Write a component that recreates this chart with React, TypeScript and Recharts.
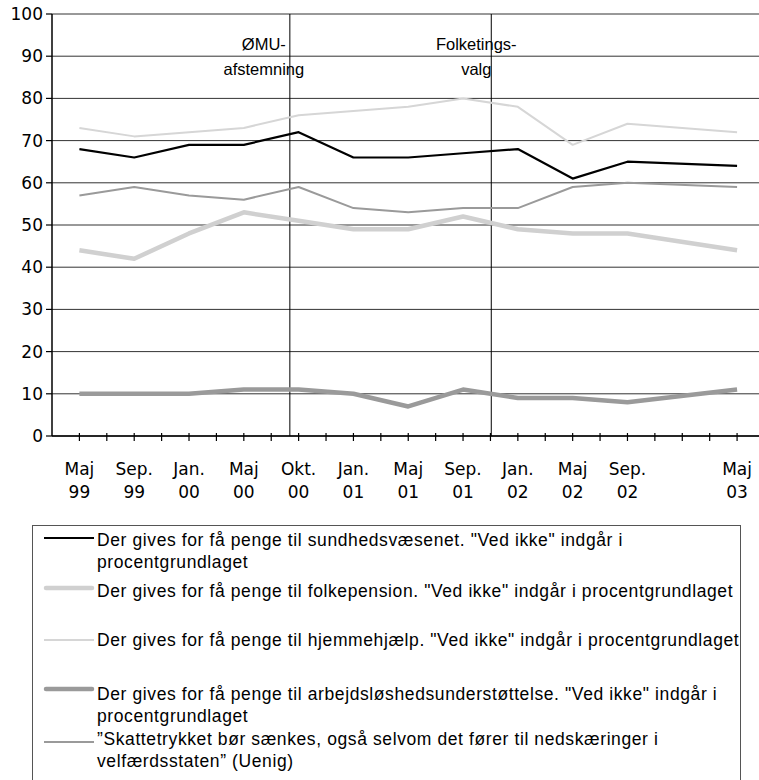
import React from 'react';
import { LineChart, Line, XAxis, YAxis, CartesianGrid, ReferenceLine } from 'recharts';

// Category slots along the time axis (blank = unlabelled tick)
const categories = [
  'Maj 99', '', 'Sep. 99', '', 'Jan. 00', '', 'Maj 00', '', 'Okt. 00', '', 'Jan. 01', '',
  'Maj 01', '', 'Sep. 01', '', 'Jan. 02', '', 'Maj 02', '', 'Sep. 02', '', '', '', 'Maj 03',
];

const surveys = ['Maj 99', 'Sep. 99', 'Jan. 00', 'Maj 00', 'Okt. 00', 'Jan. 01', 'Maj 01', 'Sep. 01', 'Jan. 02', 'Maj 02', 'Sep. 02', 'Maj 03'];

const sundhed = [68, 66, 69, 69, 72, 66, 66, 67, 68, 61, 65, 64];
const folkepension = [44, 42, 48, 53, 51, 49, 49, 52, 49, 48, 48, 44];
const hjemmehjaelp = [73, 71, 72, 73, 76, 77, 78, 80, 78, 69, 74, 72];
const arbejdsloshed = [10, 10, 10, 11, 11, 10, 7, 11, 9, 9, 8, 11];
const skattetryk = [57, 59, 57, 56, 59, 54, 53, 54, 54, 59, 60, 59];

const yTicks = [0, 10, 20, 30, 40, 50, 60, 70, 80, 90, 100];

const seriesNames = [
  'Der gives for få penge til sundhedsvæsenet. "Ved ikke" indgår i\nprocentgrundlaget',
  'Der gives for få penge til folkepension. "Ved ikke" indgår i procentgrundlaget',
  'Der gives for få penge til hjemmehjælp. "Ved ikke" indgår i procentgrundlaget',
  'Der gives for få penge til arbejdsløshedsunderstøttelse. "Ved ikke" indgår i\nprocentgrundlaget',
  '”Skattetrykket bør sænkes, også selvom det fører til nedskæringer i\nvelfærdsstaten” (Uenig)',
];

const events = [
  { pos: 7.68, lines: ['ØMU-', 'afstemning'], dx: -26 },
  { pos: 15.03, lines: ['Folketings-', 'valg'], dx: -15 },
];

const data = surveys.map((s, k) => ({
  i: categories.indexOf(s),
  s1: sundhed[k],
  s2: folkepension[k],
  s3: hjemmehjaelp[k],
  s4: arbejdsloshed[k],
  s5: skattetryk[k],
}));

const seriesStyles = [
  { key: 's1', color: '#000000', width: 2.2 },
  { key: 's2', color: '#d0d0d0', width: 4.5 },
  { key: 's3', color: '#d6d6d6', width: 2 },
  { key: 's4', color: '#9a9a9a', width: 4.5 },
  { key: 's5', color: '#9a9a9a', width: 2 },
];

const AXIS_FONT = '"DejaVu Sans", sans-serif';
const TEXT_FONT = '"Liberation Sans", Arial, sans-serif';

const XTick = (props: any) => {
  const { x, y, payload } = props;
  const label = categories[payload.value] || '';
  const parts = label.split(' ');
  return (
    <g>
      <line x1={x} x2={x} y1={y - 3} y2={y + 5} stroke="#000" strokeWidth={1.2} />
      {label && (
        <text x={x} y={y} textAnchor="middle" fontFamily={AXIS_FONT} fontSize={17} fill="#000">
          <tspan x={x} dy={39}>{parts[0]}</tspan>
          <tspan x={x} dy={23}>{parts[1]}</tspan>
        </text>
      )}
    </g>
  );
};

const EventLabel = (props: any) => {
  const { viewBox, lines, dx } = props;
  const cx = viewBox.x + dx;
  return (
    <text x={cx} y={viewBox.y} textAnchor="middle" fontFamily={TEXT_FONT} fontSize={16.5} fill="#000">
      <tspan x={cx} dy={36}>{lines[0]}</tspan>
      <tspan x={cx} dy={25}>{lines[1]}</tspan>
    </text>
  );
};

const legendLayout = [
  { top: 528.6, sampleY: 538 },
  { top: 579.6, sampleY: 588 },
  { top: 628.9, sampleY: 640 },
  { top: 682.9, sampleY: 689 },
  { top: 727.9, sampleY: 742 },
];

export default function App() {
  return (
    <div style={{ position: 'absolute', left: 0, top: 0, width: 759, height: 780, overflow: 'hidden', background: '#fff' }}>
      <LineChart width={759} height={515} data={data} margin={{ top: 14, right: 0, left: 0, bottom: 0 }}>
        <CartesianGrid vertical={false} stroke="#333" strokeWidth={1} />
        <XAxis
          type="number"
          dataKey="i"
          domain={[-1, 24.8]}
          ticks={categories.map((_, k) => k)}
          interval={0}
          height={79}
          tick={<XTick />}
          tickLine={false}
          tickSize={0}
          tickMargin={0}
          axisLine={{ stroke: '#000', strokeWidth: 1.5 }}
          allowDataOverflow
        />
        <YAxis
          type="number"
          domain={[0, 100]}
          ticks={yTicks}
          interval={0}
          width={52}
          tickSize={6}
          tickMargin={3}
          tickLine={{ stroke: '#000', strokeWidth: 1.2 }}
          axisLine={{ stroke: '#000', strokeWidth: 1.5 }}
          tick={{ fontFamily: AXIS_FONT, fontSize: 17, fill: '#000' }}
        />
        {events.map((e) => (
          <ReferenceLine
            key={e.lines[0]}
            x={e.pos}
            stroke="#000"
            strokeWidth={1}
            label={<EventLabel lines={e.lines} dx={e.dx} />}
          />
        ))}
        {seriesStyles.map((s, k) => (
          <Line
            key={s.key}
            dataKey={s.key}
            name={seriesNames[k]}
            stroke={s.color}
            strokeWidth={s.width}
            dot={false}
            activeDot={false}
            strokeLinejoin="round"
            isAnimationActive={false}
          />
        ))}
      </LineChart>
      <div
        style={{
          position: 'absolute',
          left: 32,
          top: 525,
          width: 709,
          height: 270,
          border: '1px solid #555',
          boxSizing: 'border-box',
        }}
      />
      {seriesStyles.map((s, k) => (
        <React.Fragment key={'lg' + s.key}>
          <svg
            width={56}
            height={12}
            style={{ position: 'absolute', left: 41, top: legendLayout[k].sampleY - 6 }}
          >
            <line
              x1={3 + (s.width > 3 ? 2 : 0)}
              x2={53 - (s.width > 3 ? 2 : 0)}
              y1={6}
              y2={6}
              stroke={s.color}
              strokeWidth={s.width}
              strokeLinecap={s.width > 3 ? 'round' : 'butt'}
            />
          </svg>
          <div
            style={{
              position: 'absolute',
              left: 97,
              top: legendLayout[k].top,
              fontFamily: TEXT_FONT,
              fontSize: 17.5,
              letterSpacing: 0.6,
              lineHeight: '22.5px',
              whiteSpace: 'pre',
              color: '#000',
            }}
          >
            {seriesNames[k]}
          </div>
        </React.Fragment>
      ))}
    </div>
  );
}
